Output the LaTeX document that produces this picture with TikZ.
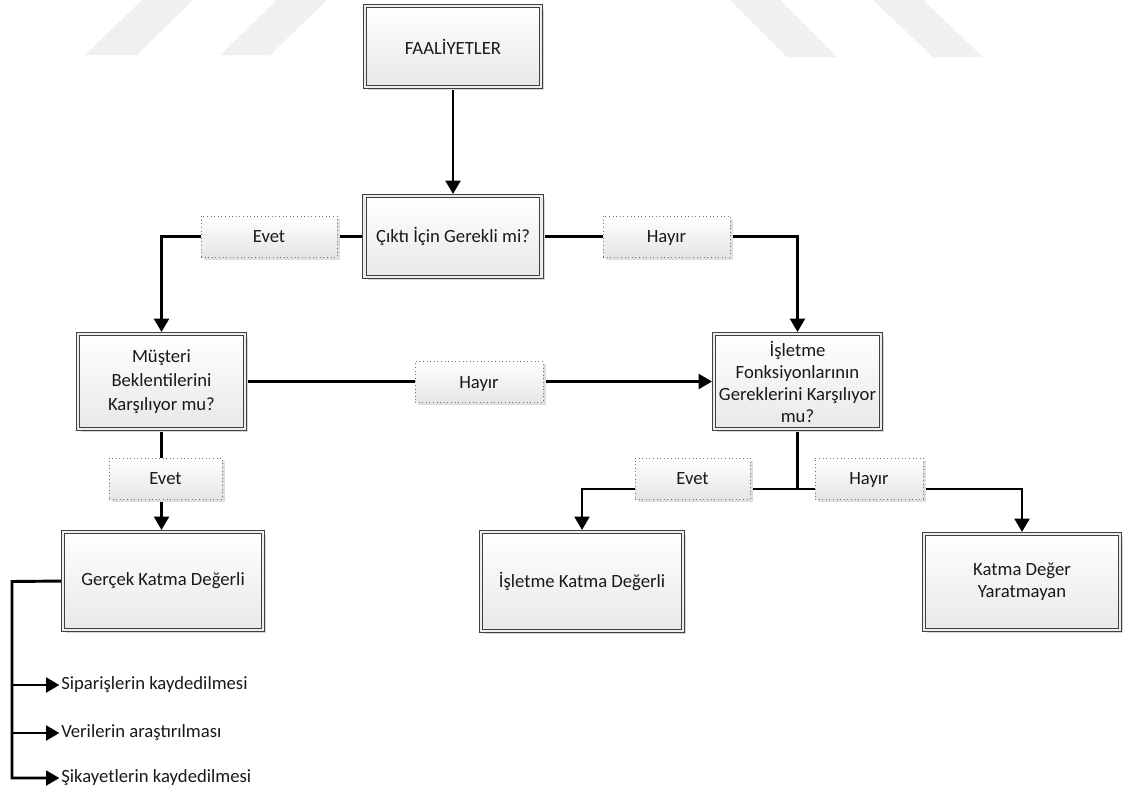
\documentclass[tikz,border=0pt]{standalone}
\usepackage{fontspec}
\setmainfont{Carlito}
\usetikzlibrary{arrows.meta,shadows,backgrounds}

\begin{document}
\begin{tikzpicture}[x=0.75pt,y=-0.75pt,
  every node/.style={font=\fontsize{14}{16.5}\selectfont, text=black!90},
  stage/.style={draw=black!75, line width=0.6pt, double=black!7, double distance=2.2pt,
    top color=white, bottom color=black!9, align=center, inner sep=2pt,
    drop shadow={shadow xshift=2.5pt, shadow yshift=-2.5pt, fill=black!16, opacity=1}},
  tag/.style={draw=black!55, dotted, line width=0.7pt, top color=white, bottom color=black!10,
    minimum height=30.75pt, inner sep=0pt, text height=9pt, text depth=0pt,
    drop shadow={shadow xshift=2pt, shadow yshift=-2pt, fill=black!13, opacity=1}},
  link/.style={line width=2.2pt, -{Triangle[length=10pt,width=11pt]}, shorten >=1.2pt},
  plainlink/.style={line width=2.2pt},
  item/.style={anchor=west, inner sep=0pt},
  watermark/.style={fill=black!6}
]
\useasboundingbox (0,0) rectangle (1123,790);

% faint stripes in the page background
\begin{scope}[on background layer]
  \fill[watermark] (85,55) -- (137,55) -- (193,0) -- (142,0) -- cycle;
  \fill[watermark] (220,55) -- (270,55) -- (327,0) -- (277,0) -- cycle;
  \fill[watermark] (730,0) -- (780,0) -- (837,57) -- (787,57) -- cycle;
  \fill[watermark] (873,0) -- (923,0) -- (983,57) -- (933,57) -- cycle;
\end{scope}

% decision boxes
\node[stage, minimum width=132pt, minimum height=60.75pt] (act) at (453,46.5) {FAALİYETLER};
\node[stage, minimum width=132.75pt, minimum height=60.75pt] (q1) at (453,236.5) {Çıktı İçin Gerekli mi?};
\node[stage, minimum width=125.25pt, minimum height=71.25pt,
  font=\fontsize{14}{18}\selectfont] (q2) at (161.5,381.5) {Müşteri\\Beklentilerini\\Karşılıyor mu?};
\node[stage, minimum width=125.25pt, minimum height=71.25pt] (q3) at (797.5,381.5)
  {İşletme\\Fonksiyonlarının\\Gereklerini Karşılıyor\\mu?};

% result boxes
\node[stage, minimum width=150pt, minimum height=73.5pt] (r1) at (163,581) {Gerçek Katma Değerli};
\node[stage, minimum width=151.5pt, minimum height=74.25pt] (r2) at (582,581.5) {İşletme Katma Değerli};
\node[stage, minimum width=147pt, minimum height=72pt] (r3) at (1022,582) {Katma Değer\\Yaratmayan};

% activities of the real value-added group
\node[item] (i1) at (61,685) {Siparişlerin kaydedilmesi};
\node[item] (i2) at (61,733) {Verilerin araştırılması};
\node[item] (i3) at (61,778) {Şikayetlerin kaydedilmesi};

\coordinate (fork) at (797.5,489);
\coordinate (spine) at (12,581.5);

% connectors
\begin{scope}[on background layer]
  \draw[link] (act.south) -- (q1.north);
  \draw[link] (q1.west) -| (q2.north);
  \draw[link] (q1.east) -| (q3.north);
  \draw[link] (q2.east) -- (q3.west);
  \draw[link] (q2.south) -- (q2.south |- r1.north);
  \draw[plainlink] (q3.south) -- (fork);
  \draw[link] (fork) -| (r2.north);
  \draw[link] (fork) -| (r3.north);
  \draw[link] (r1.west) -- (spine) |- (i3.west);
  \draw[link] (spine |- i1.west) -- (i1.west);
  \draw[link] (spine |- i2.west) -- (i2.west);
\end{scope}

% answer labels on the connectors
\node[tag, minimum width=102pt] (t1) at (269,236.5) {Evet};
\node[tag, minimum width=95.25pt] (t2) at (666.5,236.5) {Hayır};
\node[tag, minimum width=96pt] (t3) at (479,382) {Hayır};
\node[tag, minimum width=84.75pt] (t4) at (165.5,478.5) {Evet};
\node[tag, minimum width=86.25pt] (t5) at (692.5,478.5) {Evet};
\node[tag, minimum width=81pt] (t6) at (869,478.5) {Hayır};
\end{tikzpicture}
\end{document}
